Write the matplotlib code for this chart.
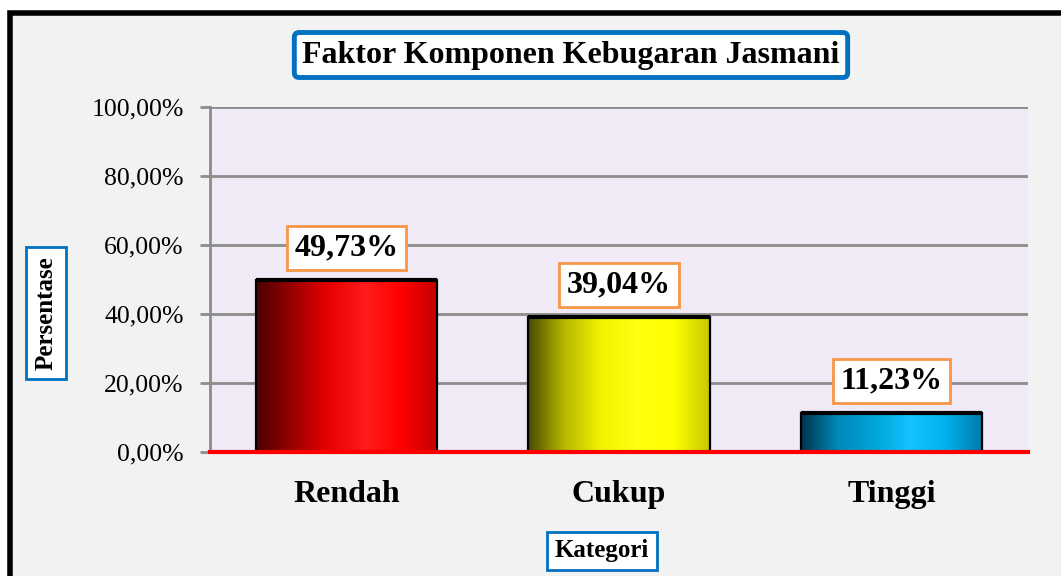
import matplotlib
matplotlib.use("Agg")
import matplotlib.pyplot as plt
import matplotlib.patches as patches
from matplotlib.colors import LinearSegmentedColormap
import numpy as np

categories = ["Rendah", "Cukup", "Tinggi"]
values = [49.73, 39.04, 11.23]
value_labels = ["49,73%", "39,04%", "11,23%"]
yticks = [0, 20, 40, 60, 80, 100]
ytick_labels = ["0,00%", "20,00%", "40,00%", "60,00%", "80,00%", "100,00%"]
title = "Faktor Komponen Kebugaran Jasmani"
xlabel = "Kategori"
ylabel = "Persentase"

# gradient stops per bar (left dark -> highlight -> slightly darker right)
grads = [
    ["#4a0000", "#9a0000", "#e80000", "#ff1c1c", "#ff0000", "#c40000"],
    ["#4a4a00", "#b8b800", "#f2f200", "#ffff10", "#ffff00", "#c8c800"],
    ["#00334d", "#0088b8", "#00a4d8", "#12c4ff", "#00b0ec", "#0078a8"],
]

plt.rcParams['font.family'] = ['Liberation Serif', 'DejaVu Serif']

fig = plt.figure(figsize=(10.61, 5.76), dpi=100)
fig.patch.set_facecolor("white")

# outer chart frame (cut off at right and bottom like the original)
frame = patches.Rectangle((9.5/1061, -0.05), 1.2, 1 - 13.5/576 + 0.05,
                          transform=fig.transFigure, facecolor="#f2f2f2",
                          edgecolor="black", linewidth=4, zorder=-5)
fig.patches.append(frame)

ax = fig.add_axes([210/1061, 1 - 452/576, 818/1061, 345/576])
ax.set_zorder(2)
ax.set_facecolor("#efeaf5")
ax.set_xlim(-0.5, 2.5)
ax.set_ylim(0, 100)

x = np.arange(len(categories))
width = 0.665
bars = ax.bar(x, values, width, facecolor="none", edgecolor="black",
              linewidth=1.6, zorder=4)

for i, b in enumerate(bars):
    cmap = LinearSegmentedColormap.from_list("g%d" % i, grads[i])
    grad = np.linspace(0, 1, 256).reshape(1, -1)
    x0, y0 = b.get_x(), b.get_y()
    im = ax.imshow(grad, cmap=cmap, aspect="auto", zorder=3,
                   extent=[x0, x0 + b.get_width(), y0, y0 + b.get_height()])
    im.set_clip_path(b)
    # darker top edge
    ax.plot([x0, x0 + b.get_width()], [values[i], values[i]], color="black",
            linewidth=3, zorder=5, solid_capstyle="butt")
    ax.annotate(value_labels[i], (x[i], values[i]), xytext=(0, 13),
                textcoords="offset points", ha="center", va="bottom",
                fontsize=23, fontweight="bold", zorder=6,
                bbox=dict(boxstyle="square,pad=0.24", facecolor="white",
                          edgecolor="#f79646", linewidth=2))

ax.set_yticks(yticks)
ax.set_yticklabels(ytick_labels, fontsize=18.5)
ax.yaxis.grid(True, color="#8c8c8c", linewidth=2)
ax.set_axisbelow(True)
ax.set_xticks(x)
ax.set_xticklabels(categories, fontsize=23, fontweight="bold")
ax.tick_params(axis="x", length=0, pad=20)
ax.tick_params(axis="y", length=7, width=2, color="#8c8c8c", pad=12)

for s in ["top", "right", "bottom"]:
    ax.spines[s].set_visible(False)
ax.spines["left"].set_color("#8c8c8c")
ax.spines["left"].set_linewidth(2)

ax.axhline(0, color="#ff0000", linewidth=3, zorder=6, clip_on=False)

fig.text(571/1061, 1 - 55/576, title, ha="center", va="center",
         fontsize=23, fontweight="bold",
         bbox=dict(boxstyle="round,pad=0.25,rounding_size=0.15",
                   facecolor="white", edgecolor="#0070c0", linewidth=3.5))
fig.text(46/1061, 1 - 313/576, ylabel, ha="center", va="center",
         rotation=90, fontsize=18, fontweight="bold",
         bbox=dict(boxstyle="square,pad=0.35", facecolor="white",
                   edgecolor="#0070c0", linewidth=2))
fig.text(602/1061, 1 - 551/576, xlabel, ha="center", va="center",
         fontsize=18, fontweight="bold",
         bbox=dict(boxstyle="square,pad=0.3", facecolor="white",
                   edgecolor="#0070c0", linewidth=2))

fig.savefig("out.png", dpi=100)
